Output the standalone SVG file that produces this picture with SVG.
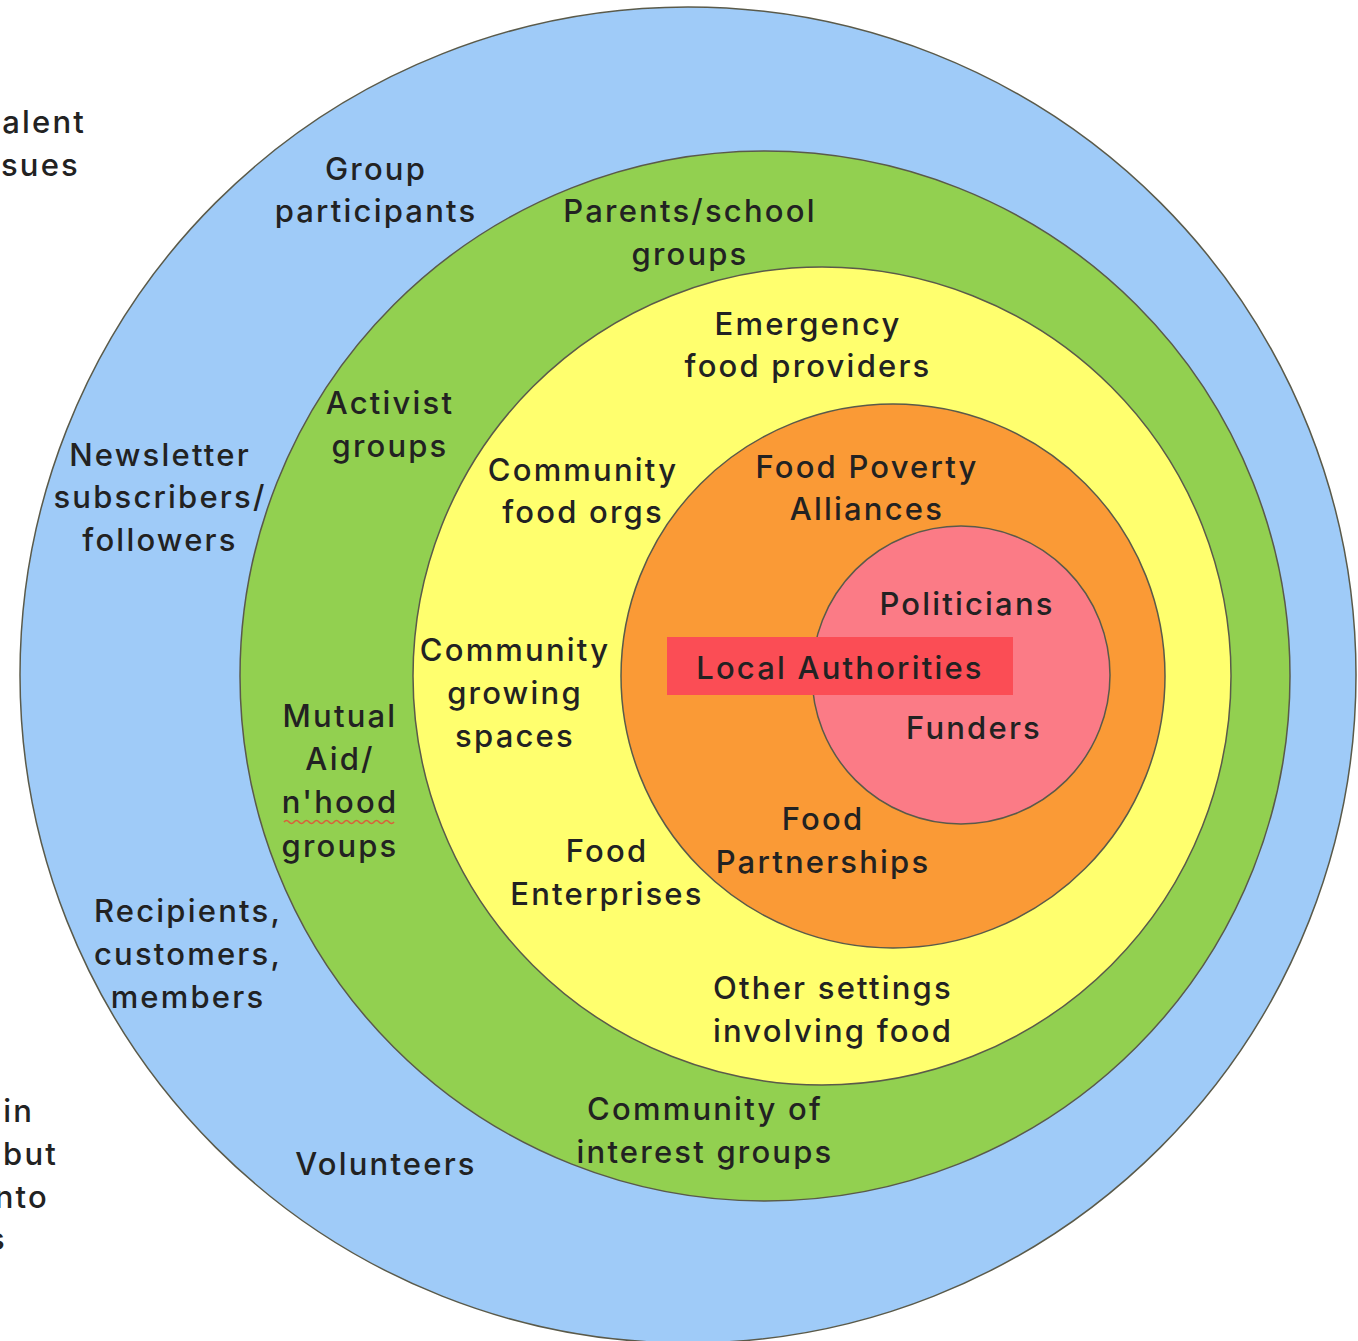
<svg xmlns="http://www.w3.org/2000/svg" width="1358" height="1341" viewBox="0 0 1358 1341">
<style>
text{font-family:Inter,"Noto Sans","Liberation Sans",sans-serif;font-size:31px;font-weight:500;fill:#222222;text-anchor:middle;letter-spacing:2.2px}
.ring{stroke:#5a5a4a;stroke-width:1.5}
.e{text-anchor:end}
</style>
<rect width="1358" height="1341" fill="#ffffff"/>
<g id="edge-text">
<text class="e" x="86" y="133">alent</text>
<text class="e" x="80" y="176">sues</text>
<text class="e" x="34" y="1122">in</text>
<text class="e" x="58" y="1165">but</text>
<text class="e" x="49" y="1208">nto</text>
<text class="e" x="7" y="1250">s</text>
</g>
<g id="ring-blue"><circle class="ring" cx="688" cy="675" r="668" fill="#9fcbf8"/></g>
<g id="ring-green"><circle class="ring" cx="765" cy="676" r="525" fill="#92d050"/></g>
<g id="ring-yellow"><circle class="ring" cx="822" cy="676" r="409" fill="#ffff6e"/></g>
<g id="ring-orange"><circle class="ring" cx="893" cy="676" r="272" fill="#fa9a36"/></g>
<g id="ring-pink"><circle class="ring" cx="961" cy="675" r="149" fill="#fb7b86"/></g>
<g id="local-authorities">
<rect x="667" y="637" width="346" height="58" fill="#fb4d55"/>
<text x="840" y="679">Local Authorities</text>
</g>
<g id="labels-blue">
<text x="376" y="180">Group</text>
<text x="376" y="222">participants</text>
<text x="160" y="466">Newsletter</text>
<text x="160" y="508">subscribers/</text>
<text x="160" y="551">followers</text>
<text x="188" y="922">Recipients,</text>
<text x="188" y="965">customers,</text>
<text x="188" y="1008">members</text>
<text x="386" y="1175">Volunteers</text>
</g>
<g id="labels-green">
<text x="690" y="222">Parents/school</text>
<text x="690" y="265">groups</text>
<text x="390" y="414">Activist</text>
<text x="390" y="457">groups</text>
<text x="340" y="727">Mutual</text>
<text x="340" y="770">Aid/</text>
<text x="340" y="813">n'hood</text>
<path d="M284 822 q2.5 -3 5 0 t5 0 t5 0 t5 0 t5 0 t5 0 t5 0 t5 0 t5 0 t5 0 t5 0 t5 0 t5 0 t5 0 t5 0 t5 0 t5 0 t5 0 t5 0 t5 0 t5 0 t5 0" fill="none" stroke="#d9603a" stroke-width="1.6"/>
<text x="340" y="857">groups</text>
<text x="705" y="1120">Community of</text>
<text x="705" y="1163">interest groups</text>
</g>
<g id="labels-yellow">
<text x="808" y="335">Emergency</text>
<text x="808" y="377">food providers</text>
<text x="583" y="481">Community</text>
<text x="583" y="523">food orgs</text>
<text x="515" y="661">Community</text>
<text x="515" y="704">growing</text>
<text x="515" y="747">spaces</text>
<text x="607" y="862">Food</text>
<text x="607" y="905">Enterprises</text>
<text x="833" y="999">Other settings</text>
<text x="833" y="1042">involving food</text>
</g>
<g id="labels-orange">
<text x="867" y="478">Food Poverty</text>
<text x="867" y="520">Alliances</text>
<text x="823" y="830">Food</text>
<text x="823" y="873">Partnerships</text>
</g>
<g id="labels-pink">
<text x="967" y="615">Politicians</text>
<text x="974" y="739">Funders</text>
</g>
<g id="connectors"></g>
</svg>
